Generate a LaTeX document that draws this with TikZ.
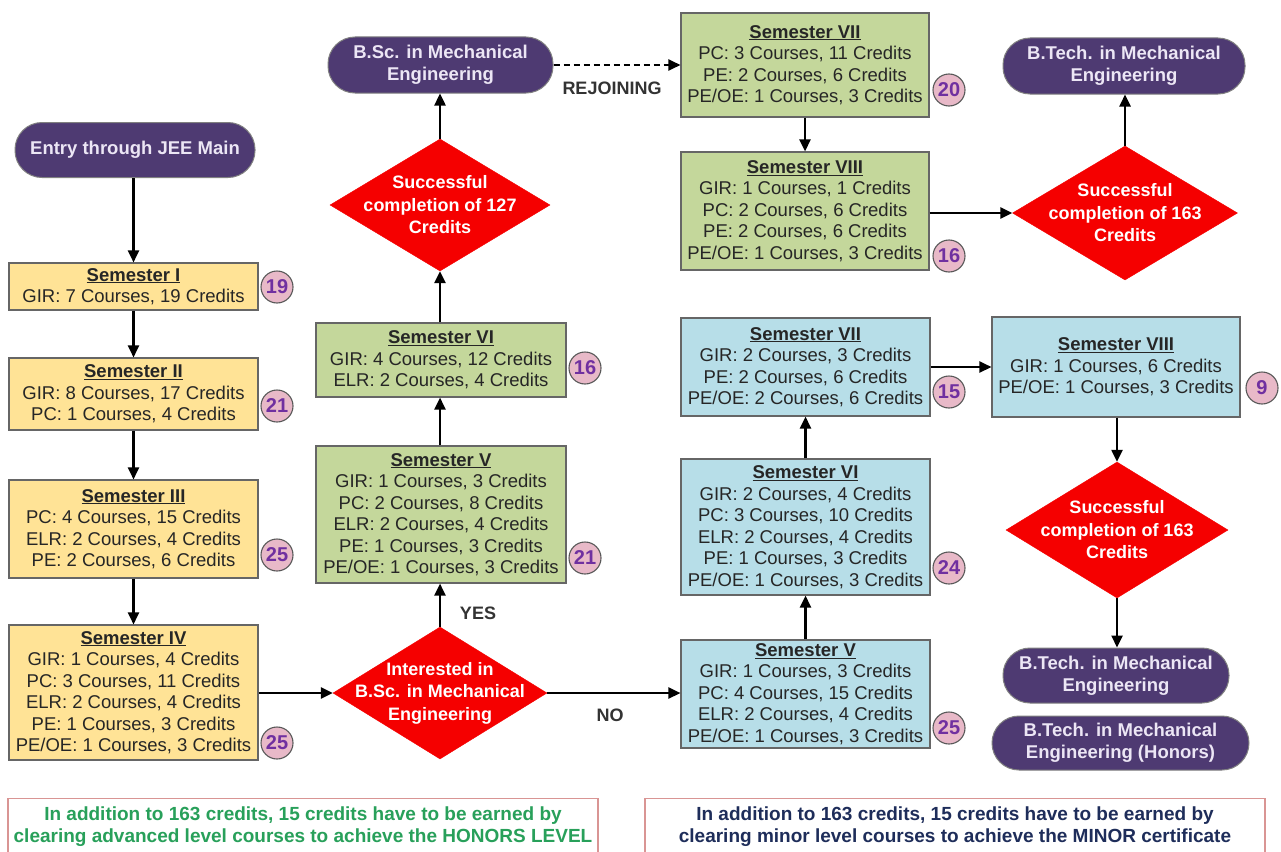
\documentclass[tikz,border=0pt]{standalone}
\usepackage{fontspec}
\setmainfont{Liberation Sans}
\usetikzlibrary{shapes.geometric,arrows.meta}
\definecolor{purp}{RGB}{78,58,114}
\definecolor{purptext}{RGB}{236,230,245}
\definecolor{yel}{RGB}{255,227,150}
\definecolor{grn}{RGB}{196,215,155}
\definecolor{blu}{RGB}{183,222,232}
\definecolor{pinkc}{RGB}{232,185,200}
\definecolor{numc}{RGB}{112,48,160}
\definecolor{redd}{RGB}{245,0,0}
\definecolor{boxline}{RGB}{217,149,148}
\definecolor{honorgreen}{RGB}{40,160,90}
\definecolor{minornavy}{RGB}{30,45,90}
\begin{document}
\begin{tikzpicture}[x=1pt,y=-1pt,
 sembox/.style={draw=black!60, line width=1.1pt, align=center, inner sep=0pt, font=\fontsize{18.5}{21.5}\selectfont, text=black!85},
 term/.style={fill=purp, draw=black!50, line width=1pt, rounded corners=27pt, align=center, inner sep=0pt, text=purptext, font=\bfseries\fontsize{18.5}{22}\selectfont},
 dec/.style={diamond, fill=redd, draw=redd, inner sep=0pt},
 dtext/.style={text=white, align=center, font=\bfseries\fontsize{18}{22.5}\selectfont},
 credit/.style={circle, fill=pinkc, draw=black!65, line width=1.1pt, minimum size=32pt, inner sep=0pt, text=numc, font=\bfseries\fontsize{20}{20}\selectfont},
 flow/.style={line width=2.4pt, -{Triangle[length=12pt,width=11pt]}},
 lbl/.style={text=black!80, font=\bfseries\fontsize{18}{18}\selectfont},
 notebox/.style={draw=boxline, line width=1.2pt, align=center, inner xsep=0pt, inner ysep=8pt, anchor=north, font=\bfseries\fontsize{19}{22}\selectfont}
]
\useasboundingbox (0,0) rectangle (1281,851);
\fill[white] (0,0) rectangle (1281,851);
\clip (0,0) rectangle (1281,851);

% left column
\node[term, minimum width=240pt, minimum height=55pt] (entry) at (135,150) {Entry through JEE Main};
\node[sembox, fill=yel, minimum width=249pt, minimum height=47pt] (s1) at (133.5,286.5) {\textbf{\underline{Semester I}}\\GIR: 7 Courses, 19 Credits};
\node[sembox, fill=yel, minimum width=249pt, minimum height=72pt] (s2) at (133.5,394) {\textbf{\underline{Semester II}}\\GIR: 8 Courses, 17 Credits\\PC: 1 Courses, 4 Credits};
\node[sembox, fill=yel, minimum width=249pt, minimum height=98pt] (s3) at (133.5,529) {\textbf{\underline{Semester III}}\\PC: 4 Courses, 15 Credits\\ELR: 2 Courses, 4 Credits\\PE: 2 Courses, 6 Credits};
\node[sembox, fill=yel, minimum width=249pt, minimum height=135pt] (s4) at (133.5,692.5) {\textbf{\underline{Semester IV}}\\GIR: 1 Courses, 4 Credits\\PC: 3 Courses, 11 Credits\\ELR: 2 Courses, 4 Credits\\PE: 1 Courses, 3 Credits\\PE/OE: 1 Courses, 3 Credits};
\node[credit] (c1) at (277,287) {19};
\node[credit] (c2) at (277,406) {21};
\node[credit] (c3) at (277,555) {25};
\node[credit] (c4) at (277,743) {25};

% middle column
\node[dec, minimum width=214pt, minimum height=132pt, label={[dtext]center:Interested in\\B.Sc. in Mechanical\\Engineering}] (d1) at (440,693) {};
\node[sembox, fill=grn, minimum width=250pt, minimum height=137pt] (g5) at (441,514.5) {\textbf{\underline{Semester V}}\\GIR: 1 Courses, 3 Credits\\PC: 2 Courses, 8 Credits\\ELR: 2 Courses, 4 Credits\\PE: 1 Courses, 3 Credits\\PE/OE: 1 Courses, 3 Credits};
\node[sembox, fill=grn, minimum width=250pt, minimum height=74pt] (g6) at (441,360) {\textbf{\underline{Semester VI}}\\GIR: 4 Courses, 12 Credits\\ELR: 2 Courses, 4 Credits};
\node[credit] (c5) at (585,558) {21};
\node[credit] (c6) at (585,368) {16};
\node[dec, minimum width=220pt, minimum height=132pt, label={[dtext]center:Successful\\completion of 127\\Credits}] (d2) at (440,205) {};
\node[term, minimum width=225pt, minimum height=56pt] (bsc) at (440.5,65) {B.Sc. in Mechanical\\Engineering};

% right upper
\node[sembox, fill=grn, minimum width=248pt, minimum height=104pt] (g7) at (805,65) {\textbf{\underline{Semester VII}}\\PC: 3 Courses, 11 Credits\\PE: 2 Courses, 6 Credits\\PE/OE: 1 Courses, 3 Credits};
\node[sembox, fill=grn, minimum width=248pt, minimum height=118pt] (g8) at (805,211) {\textbf{\underline{Semester VIII}}\\GIR: 1 Courses, 1 Credits\\PC: 2 Courses, 6 Credits\\PE: 2 Courses, 6 Credits\\PE/OE: 1 Courses, 3 Credits};
\node[credit] (c7) at (949,90) {20};
\node[credit] (c8) at (949,256) {16};
\node[dec, minimum width=225pt, minimum height=134pt, label={[dtext]center:Successful\\completion of 163\\Credits}] (d3) at (1125,213) {};
\node[term, minimum width=242pt, minimum height=56pt] (bt1) at (1124,66) {B.Tech. in Mechanical\\Engineering};

% right lower
\node[sembox, fill=blu, minimum width=249pt, minimum height=108pt] (b5) at (805.5,694) {\textbf{\underline{Semester V}}\\GIR: 1 Courses, 3 Credits\\PC: 4 Courses, 15 Credits\\ELR: 2 Courses, 4 Credits\\PE/OE: 1 Courses, 3 Credits};
\node[sembox, fill=blu, minimum width=249pt, minimum height=136pt] (b6) at (805.5,527) {\textbf{\underline{Semester VI}}\\GIR: 2 Courses, 4 Credits\\PC: 3 Courses, 10 Credits\\ELR: 2 Courses, 4 Credits\\PE: 1 Courses, 3 Credits\\PE/OE: 1 Courses, 3 Credits};
\node[sembox, fill=blu, minimum width=249pt, minimum height=98pt] (b7) at (805.5,367) {\textbf{\underline{Semester VII}}\\GIR: 2 Courses, 3 Credits\\PE: 2 Courses, 6 Credits\\PE/OE: 2 Courses, 6 Credits};
\node[sembox, fill=blu, minimum width=248pt, minimum height=100pt] (b8) at (1116,367) {\textbf{\underline{Semester VIII}}\\GIR: 1 Courses, 6 Credits\\PE/OE: 1 Courses, 3 Credits};
\node[credit] (c9) at (949,728) {25};
\node[credit] (c10) at (949,568) {24};
\node[credit] (c11) at (949,392) {15};
\node[credit] (c12) at (1262,388) {9};
\node[dec, minimum width=222pt, minimum height=136pt, label={[dtext]center:Successful\\completion of 163\\Credits}] (d4) at (1117,530) {};
\node[term, minimum width=226pt, minimum height=55pt] (bt2) at (1116,675.5) {B.Tech. in Mechanical\\Engineering};
\node[term, minimum width=257pt, minimum height=54pt] (bt3) at (1120.5,743) {B.Tech. in Mechanical\\Engineering (Honors)};

% labels
\node[lbl] (yes) at (478,613) {YES};
\node[lbl] (no) at (610,715) {NO};
\node[lbl] (rej) at (612,88) {REJOINING};

% notes
\node[notebox, text=honorgreen, minimum width=590pt] (n1) at (303,798) {In addition to 163 credits, 15 credits have to be earned by\\clearing advanced level courses to achieve the HONORS LEVEL};
\node[notebox, text=minornavy, minimum width=620pt] (n2) at (955,798) {In addition to 163 credits, 15 credits have to be earned by\\clearing minor level courses to achieve the MINOR certificate};

% connectors
\draw[flow] (entry.south -| s1.north) -- (s1.north);
\draw[flow] (s1) -- (s2);
\draw[flow] (s2) -- (s3);
\draw[flow] (s3) -- (s4);
\draw[flow] (s4.east |- d1.west) -- (d1.west);
\draw[flow] (d1.north) -- (d1.north |- g5.south);
\draw[flow] (g5.north -| d1.north) -- (g6.south -| d1.north);
\draw[flow] (g6.north -| d2.south) -- (d2.south);
\draw[flow] (d2.north) -- (d2.north |- bsc.south);
\draw[flow, dashed, dash pattern=on 6pt off 4pt] (bsc.east) -- (bsc.east -| g7.west);
\draw[flow] (g7) -- (g8);
\draw[flow] (g8.east |- d3.west) -- (d3.west);
\draw[flow] (d3.north) -- (d3.north |- bt1.south);
\draw[flow] (d1.east) -- (d1.east -| b5.west);
\draw[flow] (b5) -- (b6);
\draw[flow] (b6) -- (b7);
\draw[flow] (b7.east |- b8.west) -- (b8.west);
\draw[flow] (b8.south -| d4.north) -- (d4.north);
\draw[flow] (d4.south) -- (d4.south |- bt2.north);
\end{tikzpicture}
\end{document}
